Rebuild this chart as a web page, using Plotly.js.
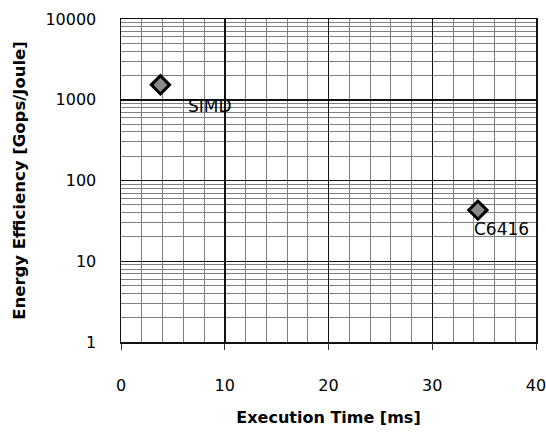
<!DOCTYPE html>
<html><head><meta charset="utf-8">
<script src="https://cdn.plot.ly/plotly-3.0.1.min.js"></script>
<style>body{margin:0;background:#fff}#c{width:546px;height:438px}</style>
</head><body><div id="c"></div>
<script>
const names = ["SIMD", "C6416"];
const execTime = [3.8, 34.4];
const efficiency = [1530, 43];
const yTickVals = [1, 10, 100, 1000, 10000];
const yTickText = ["1", "10", "100", "1000", "10000"];
const xTickVals = [0, 10, 20, 30, 40];

const font = "DejaVu Sans, sans-serif";
const trace = {
  x: execTime, y: efficiency, mode: "markers", type: "scatter",
  marker: {symbol: "diamond", size: 14, color: "#8a8a8a", line: {color: "#000", width: 3}},
  hoverinfo: "none"
};
const annos = names.map((n, i) => ({
  x: execTime[i], y: Math.log10(efficiency[i]), text: n, showarrow: false,
  xanchor: "left", yanchor: "middle",
  xshift: i === 0 ? 26 : -6, yshift: i === 0 ? -21 : -19,
  font: {family: font, size: 17, color: "#000"}
}));
const layout = {
  width: 546, height: 438,
  margin: {l: 121, r: 10, t: 19, b: 96},
  paper_bgcolor: "#fff", plot_bgcolor: "#fff",
  showlegend: false,
  xaxis: {
    range: [0, 40], tickvals: xTickVals, showgrid: true, gridcolor: "#111", gridwidth: 1.5,
    minor: {dtick: 2, showgrid: true, gridcolor: "#808080", gridwidth: 1},
    ticks: "outside", ticklen: 6, tickcolor: "#333", ticklabelstandoff: 22,
    ticklabeloverflow: "allow",
    zeroline: false, showline: true, linecolor: "#111", linewidth: 1.5, mirror: true,
    tickfont: {family: font, size: 16, color: "#000"},
    title: {text: "<b>Execution Time [ms]</b>", font: {family: font, size: 16, color: "#000"}, standoff: 18}
  },
  yaxis: {
    type: "log", range: [0, 4], tickvals: yTickVals, ticktext: yTickText,
    showgrid: true, gridcolor: "#111", gridwidth: 1.5,
    minor: {dtick: "D1", showgrid: true, gridcolor: "#808080", gridwidth: 1},
    ticks: "", ticklabelstandoff: 20, ticklabeloverflow: "allow",
    zeroline: false, showline: true, linecolor: "#111", linewidth: 1.5, mirror: true,
    tickfont: {family: font, size: 16, color: "#000"},
    title: {text: "<b>Energy Efficiency [Gops/Joule]</b>", font: {family: font, size: 16.5, color: "#000"}, standoff: 15}
  },
  annotations: annos
};
Plotly.newPlot("c", [trace], layout, {staticPlot: true, displayModeBar: false});
</script></body></html>
